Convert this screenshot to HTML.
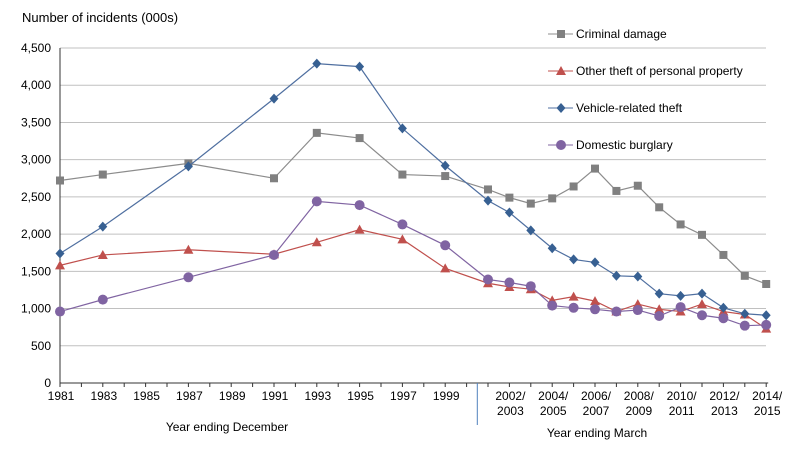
<!DOCTYPE html>
<html><head><meta charset="utf-8"><style>
body{margin:0;background:#fff;font-family:"Liberation Sans",Arial,sans-serif;}
svg text{font-family:"Liberation Sans",Arial,sans-serif;font-size:12px;fill:#000;}
</style></head><body>
<svg id="chart" width="809" height="459" viewBox="0 0 809 459">
<text x="22" y="22" style="font-size:13px">Number of incidents (000s)</text>
<g id="grid"></g><g id="axes"></g><g id="series"></g><g id="legend"></g>
<text x="227" y="431" text-anchor="middle">Year ending December</text>
<text x="597" y="437" text-anchor="middle">Year ending March</text>
</svg>
<script>
const xLabels=["1981","","1983","","1985","","1987","","1989","","1991","","1993","","1995","","1997","","1999","","","2002/|2003","","2004/|2005","","2006/|2007","","2008/|2009","","2010/|2011","","2012/|2013","","2014/|2015"];
const yTicks=[0,500,1000,1500,2000,2500,3000,3500,4000,4500];
const dataIdx=[0,2,6,10,12,14,16,18,20,21,22,23,24,25,26,27,28,29,30,31,32,33];
const criminalDamage=[2720,2800,2950,2750,3360,3290,2800,2780,2600,2490,2410,2480,2640,2880,2580,2650,2360,2130,1990,1720,1440,1330];
const otherTheft=[1580,1720,1790,1730,1890,2060,1930,1540,1340,1290,1260,1110,1160,1100,960,1060,990,960,1060,960,920,730];
const vehicleTheft=[1740,2100,2910,3820,4290,4250,3420,2920,2450,2290,2050,1810,1660,1620,1440,1430,1200,1170,1200,1010,930,910];
const burglary=[960,1120,1420,1720,2440,2390,2130,1850,1390,1350,1300,1040,1010,990,960,980,900,1020,910,870,770,780];
const seriesNames=["Criminal damage","Other theft of personal property","Vehicle-related theft","Domestic burglary"];
const NS="http://www.w3.org/2000/svg";
const x0=60,step=21.4,y0=383,yMax=4500,yTop=48;
const X=i=>x0+i*step, Y=v=>y0-(v/yMax)*(y0-yTop);
function mk(t,a,p){const e=document.createElementNS(NS,t);for(const k in a)e.setAttribute(k,a[k]);p.appendChild(e);return e;}
const grid=document.getElementById('grid'),axes=document.getElementById('axes'),ser=document.getElementById('series'),leg=document.getElementById('legend');
yTicks.forEach(v=>{
 if(v>0){const l=mk('line',{x1:x0,x2:766,y1:Y(v),y2:Y(v),stroke:'#c0c0c0','stroke-width':1},grid);
 
 }
 const t=mk('text',{x:51,y:Y(v)+4,'text-anchor':'end'},axes);t.textContent=v.toLocaleString('en-US');
 
 
});
const ax=mk('line',{x1:x0,x2:x0,y1:yTop,y2:y0,stroke:'#333'},axes);


const xa=mk('line',{x1:x0,x2:X(xLabels.length-1)+2,y1:y0,y2:y0,stroke:'#333'},axes);


for(let i=0;i<xLabels.length;i++){
 const tk=mk('line',{x1:X(i),x2:X(i),y1:y0,y2:y0+4,stroke:'#333'},axes);
 
 
 if(xLabels[i]){const parts=xLabels[i].split('|');
  parts.forEach((p,j)=>{const t=mk('text',{x:X(i)+1,y:400+j*15,'text-anchor':'middle'},axes);t.textContent=p;
  
  });}
}
const dv=mk('line',{x1:X(19.5),x2:X(19.5),y1:y0,y2:425,stroke:'#4f81bd'},axes);


const cols=['#808080','#c0504d','#376092','#8064a2'];
const lineCols=['#8c8c8c','#c0504d','#4f6fa0','#8064a2'];
function marker(type,cx,cy,c,p){
 let e;
 if(type==0)e=mk('rect',{x:cx-4,y:cy-4,width:8,height:8,fill:c},p);
 else if(type==1)e=mk('polygon',{points:`${cx},${cy-5} ${cx+5},${cy+4} ${cx-5},${cy+4}`,fill:c},p);
 else if(type==2)e=mk('polygon',{points:`${cx},${cy-5} ${cx+4.5},${cy} ${cx},${cy+5} ${cx-4.5},${cy}`,fill:c},p);
 else e=mk('circle',{cx:cx,cy:cy,r:5,fill:c},p);
 return e;
}
[criminalDamage,otherTheft,vehicleTheft,burglary].forEach((arr,s)=>{
 const g=mk('g',{},ser);
 
 
 const pts=arr.map((v,k)=>X(dataIdx[k])+','+Y(v)).join(' ');
 const pl=mk('polyline',{points:pts,fill:'none',stroke:lineCols[s],'stroke-width':1.2},g);
 
 
 arr.forEach((v,k)=>{const m=marker(s,X(dataIdx[k]),Y(v),cols[s],g);
  
  });
 const ly=34+s*37;
 const lg=mk('g',{},leg);
 
 
 mk('line',{x1:548,x2:573,y1:ly,y2:ly,stroke:lineCols[s]},lg);
 marker(s,561,ly,cols[s],lg);
 const t=mk('text',{x:576,y:ly+4},lg);t.textContent=seriesNames[s];
});
</script>
</body></html>
